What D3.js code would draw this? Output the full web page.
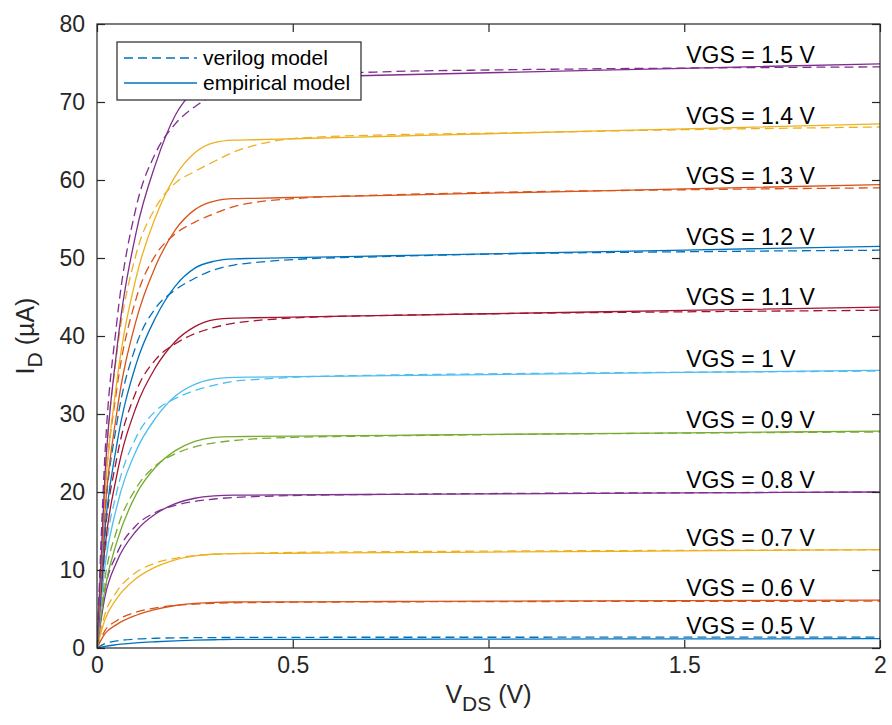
<!DOCTYPE html>
<html>
<head>
<meta charset="utf-8">
<script src="https://cdn.jsdelivr.net/npm/d3@7"></script>
<style>
  body { margin: 0; background: #fff; }
  svg text { font-family: "Liberation Sans", Arial, sans-serif; }
</style>
</head>
<body>
<svg id="chart" width="892" height="725"></svg>
<script>
// drain voltage grid (V)
const vds = [0, 0.02, 0.05, 0.1, 0.15, 0.2, 0.25, 0.3, 0.35, 0.4, 0.5, 0.75, 1, 1.5, 2]
// gate voltages (V)
const vgs = [0.5, 0.6, 0.7, 0.8, 0.9, 1.0, 1.1, 1.2, 1.3, 1.4, 1.5]
const vgsLabels = ["VGS = 0.5 V", "VGS = 0.6 V", "VGS = 0.7 V", "VGS = 0.8 V", "VGS = 0.9 V",
    "VGS = 1 V", "VGS = 1.1 V", "VGS = 1.2 V", "VGS = 1.3 V", "VGS = 1.4 V", "VGS = 1.5 V"]

// I_D (uA), empirical model (solid), one row per VGS
const empiricalID = [
    [0, 0.22, 0.42, 0.65, 0.8, 0.92, 1.0, 1.06, 1.1, 1.1, 1.11, 1.12, 1.14, 1.17, 1.2],
    [0, 1.8, 3.0, 4.2, 4.95, 5.45, 5.72, 5.86, 5.9, 5.91, 5.92, 5.96, 6.0, 6.07, 6.15],
    [0, 3.6, 6.3, 8.9, 10.4, 11.3, 11.8, 12.05, 12.1, 12.12, 12.15, 12.22, 12.30, 12.45, 12.6],
    [0, 6.5, 11.0, 15.0, 17.2, 18.5, 19.2, 19.5, 19.6, 19.61, 19.64, 19.70, 19.76, 19.88, 20.0],
    [0, 7.5, 13.5, 19.7, 23.2, 25.3, 26.5, 27.0, 27.1, 27.12, 27.16, 27.27, 27.38, 27.59, 27.8],
    [0, 10.4, 18.0, 25.3, 29.5, 32.3, 33.8, 34.5, 34.7, 34.73, 34.78, 34.92, 35.05, 35.33, 35.6],
    [0, 12.7, 22.0, 30.9, 36.0, 39.3, 41.2, 42.1, 42.3, 42.34, 42.43, 42.64, 42.85, 43.28, 43.7],
    [0, 15.0, 25.9, 36.4, 42.4, 46.4, 48.7, 49.6, 49.9, 49.95, 50.05, 50.29, 50.53, 51.02, 51.5],
    [0, 17.3, 30.0, 42.0, 49.0, 53.6, 56.2, 57.3, 57.6, 57.65, 57.76, 58.04, 58.31, 58.85, 59.4],
    [0, 19.5, 33.9, 47.5, 55.3, 60.5, 63.5, 64.8, 65.1, 65.16, 65.29, 65.61, 65.93, 66.56, 67.2],
    [0, 21.9, 38.0, 53.3, 62.1, 68.3, 71.5, 72.7, 73.0, 73.06, 73.17, 73.46, 73.75, 74.32, 74.9]
]

// I_D (uA), verilog model (dashed)
const verilogID = [
    [0, 0.55, 0.9, 1.15, 1.25, 1.3, 1.32, 1.34, 1.35, 1.36, 1.37, 1.38, 1.38, 1.39, 1.4],
    [0, 2.2, 3.5, 4.6, 5.15, 5.45, 5.62, 5.72, 5.79, 5.83, 5.87, 5.92, 5.95, 5.98, 6.0],
    [0, 4.3, 7.2, 9.7, 10.9, 11.5, 11.85, 12.0, 12.1, 12.15, 12.25, 12.35, 12.42, 12.52, 12.6],
    [0, 7.4, 12.0, 15.7, 17.4, 18.3, 18.8, 19.1, 19.3, 19.4, 19.55, 19.7, 19.8, 19.9, 20.0],
    [0, 8.8, 15.0, 20.5, 23.4, 24.9, 25.8, 26.3, 26.6, 26.8, 27.0, 27.2, 27.35, 27.55, 27.7],
    [0, 11.7, 19.9, 27.0, 30.4, 32.0, 33.0, 33.7, 34.2, 34.4, 34.7, 35.0, 35.15, 35.35, 35.5],
    [0, 14.3, 24.2, 32.9, 37.0, 39.0, 40.3, 41.1, 41.65, 41.95, 42.3, 42.65, 42.85, 43.1, 43.3],
    [0, 16.8, 28.6, 38.8, 43.6, 45.9, 47.4, 48.5, 49.1, 49.4, 49.8, 50.2, 50.5, 50.8, 51.0],
    [0, 19.5, 33.0, 44.8, 50.4, 53.1, 54.6, 55.7, 56.6, 57.1, 57.6, 58.1, 58.4, 58.75, 59.0],
    [0, 22.0, 37.4, 50.5, 56.5, 59.6, 61.1, 62.4, 63.6, 64.4, 65.3, 65.8, 66.0, 66.45, 66.8],
    [0, 24.5, 41.5, 56.5, 63.5, 67.2, 69.4, 70.9, 71.9, 72.6, 73.3, 73.9, 74.1, 74.35, 74.5]
]

const xTicks = [0, 0.5, 1, 1.5, 2]
const yTicks = [0, 10, 20, 30, 40, 50, 60, 70, 80]
const legendNames = ["verilog model", "empirical model"]

// matlab default colour order
const colors = ["#0072BD", "#D95319", "#EDB120", "#7E2F8E", "#77AC30", "#4DBEEE", "#A2142F"]

const svg = d3.select("#chart")
const margin = { top: 24, right: 12, bottom: 77, left: 97 }
const width = +svg.attr("width")
const height = +svg.attr("height")
const axisColor = "#262626"

const x = d3.scaleLinear().domain([0, 2]).range([margin.left, width - margin.right])
const y = d3.scaleLinear().domain([0, 80]).range([height - margin.bottom, margin.top])

svg.append("defs").append("clipPath").attr("id", "clip")
    .append("rect")
    .attr("x", x(0)).attr("y", y(80))
    .attr("width", x(2) - x(0)).attr("height", y(0) - y(80))

const line = d3.line()
    .x((d, i) => x(vds[i]))
    .y(d => y(d))
    .curve(d3.curveMonotoneX)

const curves = svg.append("g").attr("clip-path", "url(#clip)")

vgs.forEach((v, k) => {
    const c = colors[k % colors.length]
    curves.append("path")
        .attr("d", line(verilogID[k]))
        .attr("fill", "none")
        .attr("stroke", c)
        .attr("stroke-width", 1.3)
        .attr("stroke-dasharray", "9,5")
    curves.append("path")
        .attr("d", line(empiricalID[k]))
        .attr("fill", "none")
        .attr("stroke", c)
        .attr("stroke-width", 1.3)
})

// VGS labels sit just above the solid curve at 1.5 V
const i15 = vds.indexOf(1.5)
svg.append("g")
    .selectAll("text")
    .data(vgs)
    .enter()
    .append("text")
    .attr("x", x(1.5) + 2)
    .attr("y", (d, k) => y(empiricalID[k][i15]) - 5)
    .attr("font-size", 23)
    .attr("fill", "#000")
    .text((d, k) => vgsLabels[k])

// axes box with inward ticks on all four sides
const frame = svg.append("g").attr("stroke", axisColor).attr("stroke-width", 1.2)
frame.append("rect")
    .attr("x", x(0)).attr("y", y(80))
    .attr("width", x(2) - x(0)).attr("height", y(0) - y(80))
    .attr("fill", "none")

const tl = 8
svg.append("g")
    .attr("transform", `translate(0,${y(0)})`)
    .call(d3.axisBottom(x).tickValues(xTicks).tickSize(-tl).tickPadding(9).tickFormat(d3.format("")))
    .call(g => g.select(".domain").remove())
svg.append("g")
    .attr("transform", `translate(0,${y(80)})`)
    .call(d3.axisTop(x).tickValues(xTicks).tickSize(-tl).tickFormat(""))
    .call(g => g.select(".domain").remove())
svg.append("g")
    .attr("transform", `translate(${x(0)},0)`)
    .call(d3.axisLeft(y).tickValues(yTicks).tickSize(-tl).tickPadding(12))
    .call(g => g.select(".domain").remove())
svg.append("g")
    .attr("transform", `translate(${x(2)},0)`)
    .call(d3.axisRight(y).tickValues(yTicks).tickSize(-tl).tickFormat(""))
    .call(g => g.select(".domain").remove())

svg.selectAll(".tick line").attr("stroke", axisColor).attr("stroke-width", 1.2)
svg.selectAll(".tick text")
    .attr("font-size", 23)
    .attr("font-family", "Liberation Sans, Arial, sans-serif")
    .attr("fill", axisColor)

// axis labels
const xl = svg.append("text")
    .attr("x", (x(0) + x(2)) / 2)
    .attr("y", 703)
    .attr("text-anchor", "middle")
    .attr("font-size", 25)
    .attr("fill", axisColor)
xl.append("tspan").text("V")
xl.append("tspan").attr("dy", 8).attr("font-size", 21).text("DS")
xl.append("tspan").attr("dy", -8).text(" (V)")

const yl = svg.append("text")
    .attr("transform", `translate(34,${(y(0) + y(80)) / 2}) rotate(-90)`)
    .attr("text-anchor", "middle")
    .attr("font-size", 25)
    .attr("fill", axisColor)
yl.append("tspan").text("I")
yl.append("tspan").attr("dy", 8).attr("font-size", 21).text("D")
yl.append("tspan").attr("dy", -8).text(" (\u00b5A)")

// legend
const legend = svg.append("g").attr("transform", "translate(117,42)")
legend.append("rect")
    .attr("width", 244).attr("height", 58)
    .attr("fill", "#fff")
    .attr("stroke", axisColor)
    .attr("stroke-width", 1.2)

const items = legend.selectAll("g.item")
    .data(legendNames)
    .enter()
    .append("g")
    .attr("transform", (d, i) => `translate(0,${16 + i * 25})`)

items.append("line")
    .attr("x1", 7).attr("x2", 80)
    .attr("stroke", colors[0])
    .attr("stroke-width", 1.3)
    .attr("stroke-dasharray", (d, i) => i === 0 ? "9,5" : null)

items.append("text")
    .attr("x", 86)
    .attr("dy", "0.35em")
    .attr("font-size", 21)
    .attr("fill", "#000")
    .text(d => d)
</script>
</body>
</html>
